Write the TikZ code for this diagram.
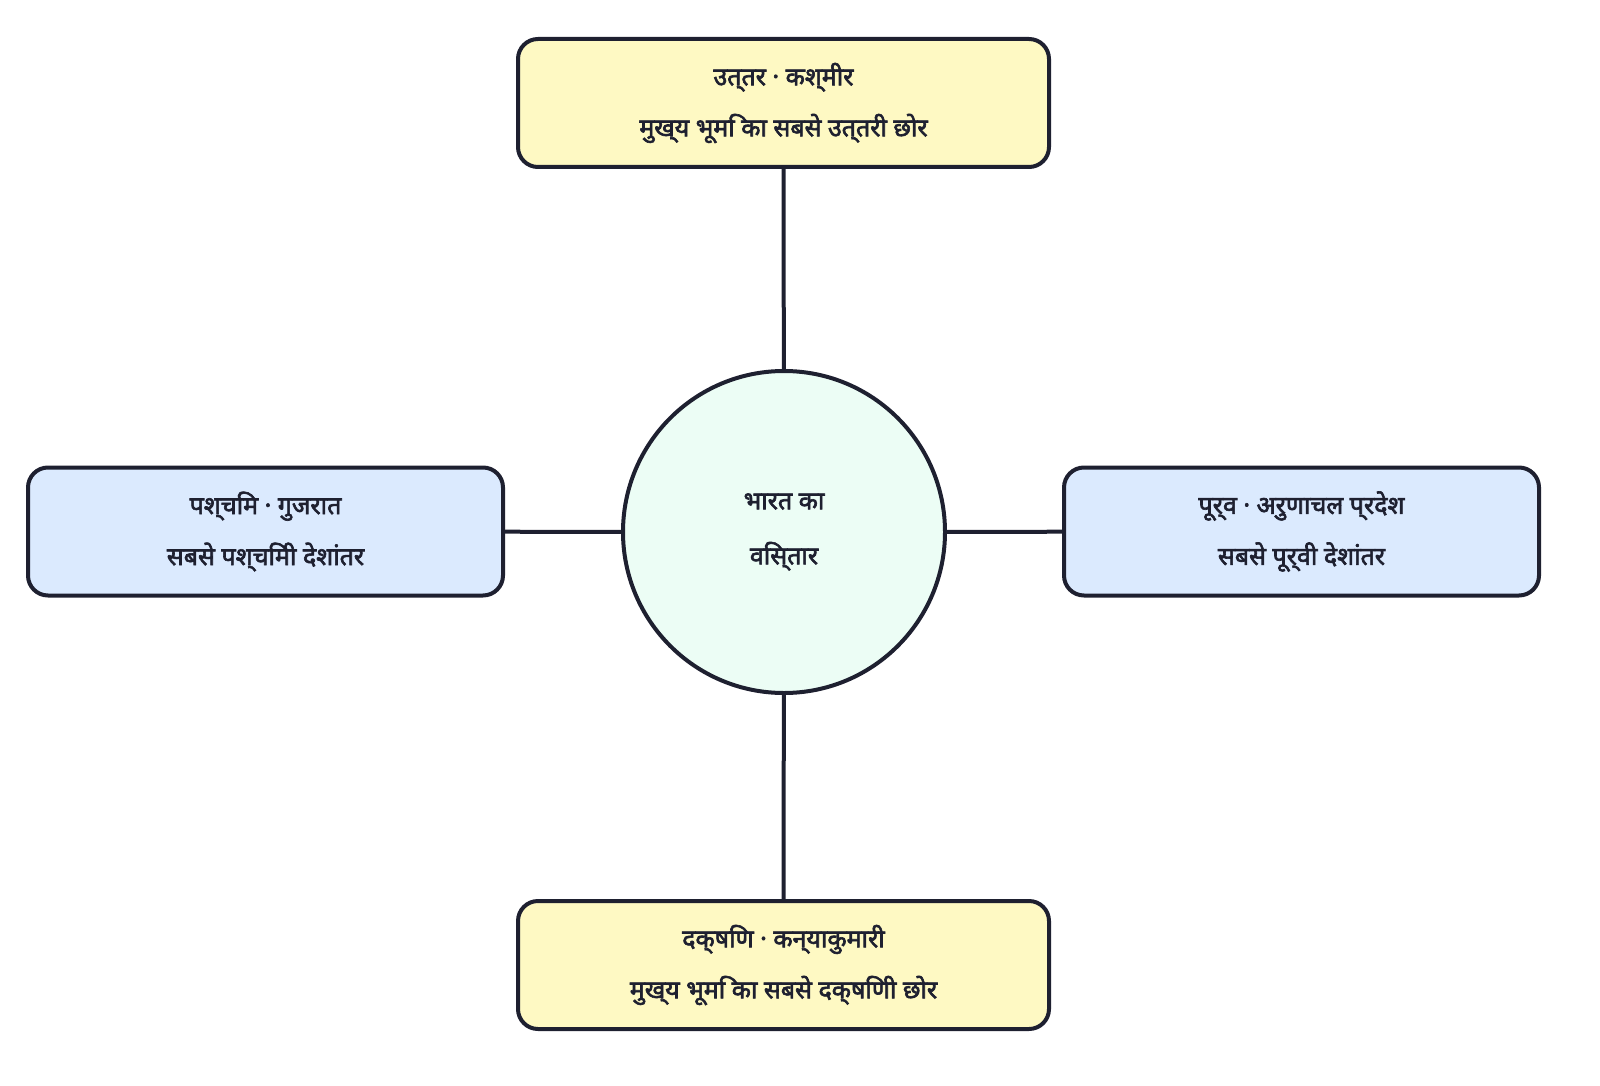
\documentclass[tikz,border=0pt]{standalone}
\usepackage{fontspec}
\newfontfamily\dev{Noto Sans}[AutoFakeBold=2.5]
\begin{document}
\begin{tikzpicture}[x=1pt,y=-1pt,
  box/.style={draw=edge,line width=4pt,rounded corners=20pt,minimum height=128pt,align=center,font=\dev\bfseries\fontsize{25}{51}\selectfont,text=edge},
  link/.style={draw=edge,line width=4pt}]
\definecolor{edge}{HTML}{1E2030}
\definecolor{ylw}{HTML}{FEF9C3}
\definecolor{blu}{HTML}{DBEAFE}
\definecolor{grn}{HTML}{ECFDF5}
\useasboundingbox (0,0) rectangle (1600,1086);
\node[draw=edge,fill=grn,line width=4pt,circle,minimum size=322pt,align=center,font=\dev\bfseries\fontsize{25}{55}\selectfont,text=edge] (c) at (784,532) {भारत का\\विस्तार};
\node[box,fill=ylw,minimum width=531pt] (n) at (783.5,103) {उत्तर · कश्मीर\\मुख्य भूमि का सबसे उत्तरी छोर};
\node[box,fill=ylw,minimum width=531pt] (s) at (783.5,965) {दक्षिण · कन्याकुमारी\\मुख्य भूमि का सबसे दक्षिणी छोर};
\node[box,fill=blu,minimum width=475pt] (w) at (265.5,531.5) {पश्चिम · गुजरात\\सबसे पश्चिमी देशांतर};
\node[box,fill=blu,minimum width=475pt] (e) at (1301.5,531.5) {पूर्व · अरुणाचल प्रदेश\\सबसे पूर्वी देशांतर};
\draw[link] (n) -- (c);
\draw[link] (s) -- (c);
\draw[link] (w) -- (c);
\draw[link] (e) -- (c);
\end{tikzpicture}
\end{document}
